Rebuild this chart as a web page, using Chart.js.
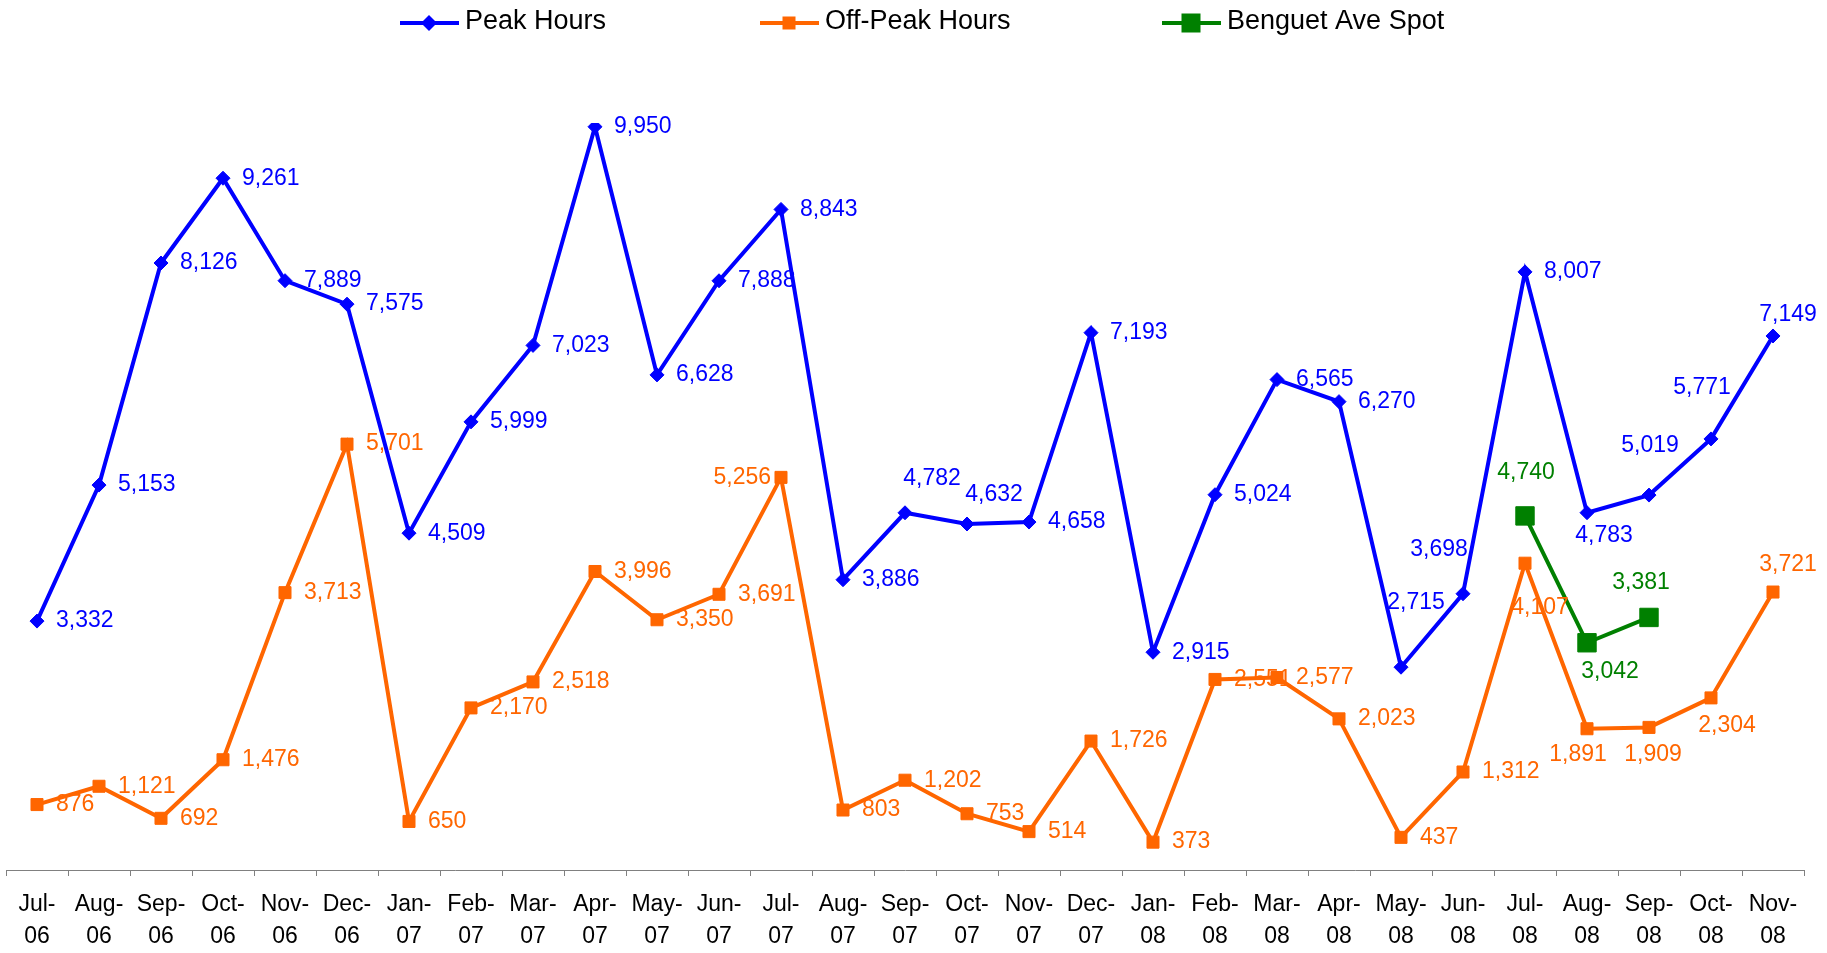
<!DOCTYPE html>
<html>
<head>
<meta charset="utf-8">
<script src="https://cdn.jsdelivr.net/npm/chart.js@4"></script>
<style>
    html, body { margin: 0; padding: 0; background: #fff; }
    #wrap { width: 1827px; height: 953px; }
</style>
</head>
<body>
<div id="wrap"><canvas id="usageChart" width="1827" height="953"></canvas></div>
<script>

/* ========= DATA ========= */

const months = [
    ["Jul-", "06"], ["Aug-", "06"], ["Sep-", "06"], ["Oct-", "06"], ["Nov-", "06"], ["Dec-", "06"],
    ["Jan-", "07"], ["Feb-", "07"], ["Mar-", "07"], ["Apr-", "07"], ["May-", "07"], ["Jun-", "07"],
    ["Jul-", "07"], ["Aug-", "07"], ["Sep-", "07"], ["Oct-", "07"], ["Nov-", "07"], ["Dec-", "07"],
    ["Jan-", "08"], ["Feb-", "08"], ["Mar-", "08"], ["Apr-", "08"], ["May-", "08"], ["Jun-", "08"],
    ["Jul-", "08"], ["Aug-", "08"], ["Sep-", "08"], ["Oct-", "08"], ["Nov-", "08"]
];

const peakHours = [
    3332, 5153, 8126, 9261, 7889, 7575,
    4509, 5999, 7023, 9950, 6628, 7888,
    8843, 3886, 4782, 4632, 4658, 7193,
    2915, 5024, 6565, 6270, 2715, 3698,
    8007, 4783, 5019, 5771, 7149
];

const offPeakHours = [
    876, 1121, 692, 1476, 3713, 5701,
    650, 2170, 2518, 3996, 3350, 3691,
    5256, 803, 1202, 753, 514, 1726,
    373, 2551, 2577, 2023, 437, 1312,
    4107, 1891, 1909, 2304, 3721
];

const benguetSpot = [
    null, null, null, null, null, null,
    null, null, null, null, null, null,
    null, null, null, null, null, null,
    null, null, null, null, null, null,
    4740, 3042, 3381, null, null
];

// label placement: null = right of point, "l" = left, [dx, dy] = centred offset
const peakLabelPos = {
    14: [27, -34], 15: [27, -29], 22: [15, -65], 23: [-24, -44],
    25: [17, 23], 26: [1, -49], 27: [-9, -51], 28: [15, -21]
};
const offPeakLabelPos = {
    12: "l", 24: [15, 44], 25: [-9, 26], 26: [4, 27], 27: [16, 28], 28: [15, -27]
};
const benguetLabelPos = {
    24: [1, -43], 25: [23, 29], 26: [-8, -35]
};

const FONT = "'Liberation Sans', Arial, sans-serif";


/* ========= DATA LABELS ========= */

const valueLabels = {
    id: "valueLabels",
    afterDatasetsDraw(chart) {
        const c = chart.ctx;
        c.save();
        c.font = "23px " + FONT;
        c.textBaseline = "middle";
        chart.data.datasets.forEach((ds, i) => {
            const meta = chart.getDatasetMeta(i);
            meta.data.forEach((pt, j) => {
                const v = ds.data[j];
                if (v === null) return;
                const txt = v.toLocaleString("en-US");
                const pos = ds.labelPos[j];
                c.fillStyle = ds.borderColor;
                if (!pos) {
                    c.textAlign = "left";
                    c.fillText(txt, pt.x + 19, pt.y);
                } else if (pos === "l") {
                    c.textAlign = "right";
                    c.fillText(txt, pt.x - 10, pt.y);
                } else {
                    c.textAlign = "center";
                    c.fillText(txt, pt.x + pos[0], pt.y + pos[1]);
                }
            });
        });
        c.restore();
    }
};


/* ========= LEGEND ========= */

const topLegend = {
    id: "topLegend",
    afterDraw(chart) {
        const c = chart.ctx;
        const items = [
            { text: "Peak Hours", color: "#0000FF", x: 400, shape: "diamond", size: 8 },
            { text: "Off-Peak Hours", color: "#FF6600", x: 760, shape: "square", size: 13 },
            { text: "Benguet Ave Spot", color: "#008000", x: 1162, shape: "square", size: 19 }
        ];
        c.save();
        items.forEach(it => {
            const y = 23;
            c.strokeStyle = it.color;
            c.fillStyle = it.color;
            c.lineWidth = 4;
            c.beginPath();
            c.moveTo(it.x, y);
            c.lineTo(it.x + 59, y);
            c.stroke();
            const cx = it.x + 29;
            if (it.shape === "diamond") {
                c.beginPath();
                c.moveTo(cx, y - it.size);
                c.lineTo(cx + it.size, y);
                c.lineTo(cx, y + it.size);
                c.lineTo(cx - it.size, y);
                c.closePath();
                c.fill();
            } else {
                c.fillRect(cx - it.size / 2, y - it.size / 2, it.size, it.size);
            }
            c.fillStyle = "#000";
            c.font = "27px " + FONT;
            c.textAlign = "left";
            c.textBaseline = "alphabetic";
            c.fillText(it.text, it.x + 65, 29);
        });
        c.restore();
    }
};


/* ========= CHART ========= */

const ctx = document.getElementById("usageChart");

new Chart(ctx, {

    type: "line",

    data: {

        labels: months,

        datasets: [
            {
                label: "Peak Hours",
                data: peakHours,
                labelPos: peakLabelPos,
                borderColor: "#0000FF",
                backgroundColor: "#0000FF",
                borderWidth: 4,
                pointStyle: "rectRot",
                pointRadius: 7,
                pointBorderWidth: 1,
                order: 1
            },
            {
                label: "Off-Peak Hours",
                data: offPeakHours,
                labelPos: offPeakLabelPos,
                borderColor: "#FF6600",
                backgroundColor: "#FF6600",
                borderWidth: 4,
                pointStyle: "rect",
                pointRadius: 8.5,
                pointBorderWidth: 1,
                order: 2
            },
            {
                label: "Benguet Ave Spot",
                data: benguetSpot,
                labelPos: benguetLabelPos,
                borderColor: "#008000",
                backgroundColor: "#008000",
                borderWidth: 4,
                pointStyle: "rect",
                pointRadius: 13,
                pointBorderWidth: 1,
                order: 0
            }
        ]
    },

    options: {

        responsive: false,
        animation: false,
        devicePixelRatio: 1,

        layout: {
            autoPadding: false,
            padding: { top: 123, left: 6, right: 23, bottom: 0 }
        },

        elements: {
            line: { tension: 0, fill: false }
        },

        plugins: {
            legend: { display: false },
            tooltip: { enabled: false }
        },

        scales: {

            x: {
                offset: true,
                afterFit(scale) {
                    scale.height = 83;
                    scale.paddingLeft = 0;
                    scale.paddingRight = 0;
                },
                grid: {
                    offset: true,
                    drawOnChartArea: false,
                    drawTicks: true,
                    tickLength: 6,
                    color: "#808080",
                    lineWidth: 1
                },
                border: {
                    color: "#808080",
                    width: 1
                },
                ticks: {
                    autoSkip: false,
                    maxRotation: 0,
                    padding: 13,
                    color: "#000",
                    font: { family: FONT, size: 23, lineHeight: "32px" }
                }
            },

            y: {
                display: false,
                min: 0,
                max: 10000
            }
        }
    },

    plugins: [valueLabels, topLegend]

});

</script>
</body>
</html>
